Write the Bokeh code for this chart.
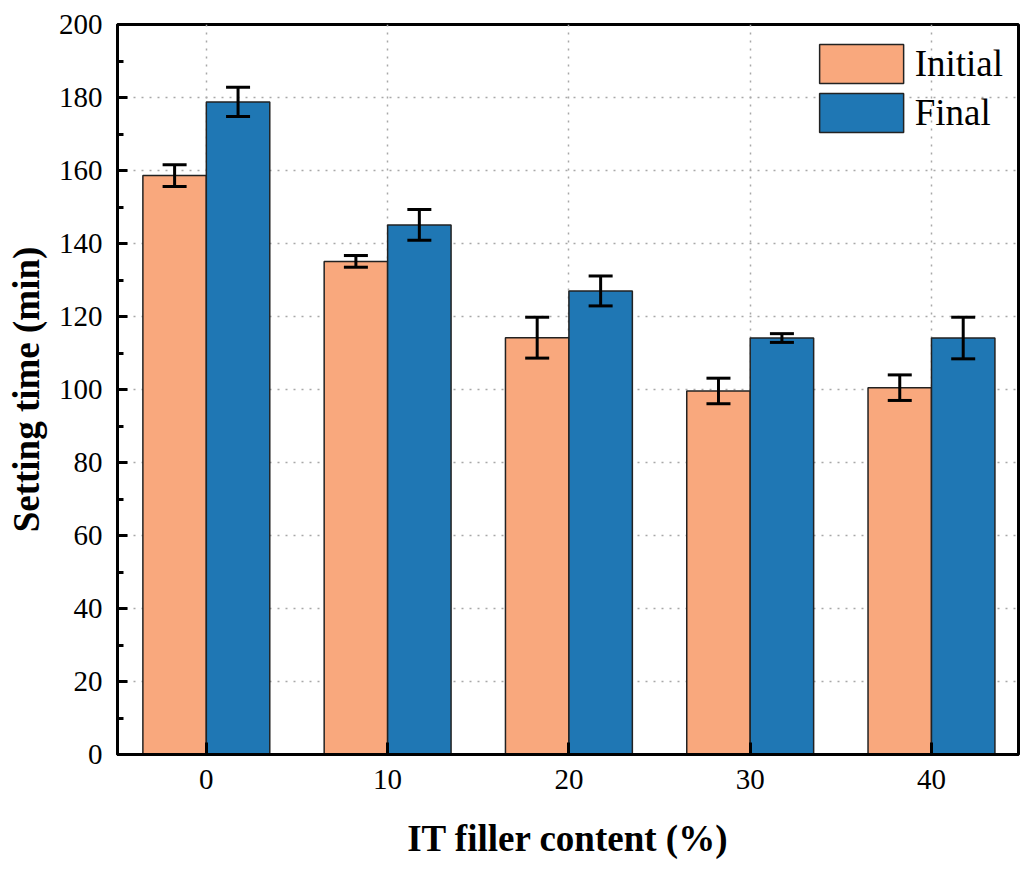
from bokeh.plotting import figure
from bokeh.models import ColumnDataSource, Range1d, FixedTicker, Whisker, TeeHead, Legend, LegendItem
from bokeh.embed import file_html
from bokeh.resources import INLINE

content = [0, 10, 20, 30, 40]
initial = [158.6, 135.1, 114.2, 99.6, 100.5]
initial_err = [3.0, 1.6, 5.6, 3.5, 3.5]
final = [178.8, 145.1, 127.0, 114.1, 114.1]
final_err = [4.0, 4.2, 4.1, 1.2, 5.7]
y_ticks = [0, 20, 40, 60, 80, 100, 120, 140, 160, 180, 200]

BAR_W = 3.5
OFF = 1.75
FONT = "Liberation Serif"

src_i = ColumnDataSource(dict(
    x=[c - OFF for c in content], top=initial,
    upper=[v + e for v, e in zip(initial, initial_err)],
    lower=[v - e for v, e in zip(initial, initial_err)]))
src_f = ColumnDataSource(dict(
    x=[c + OFF for c in content], top=final,
    upper=[v + e for v, e in zip(final, final_err)],
    lower=[v - e for v, e in zip(final, final_err)]))

p = figure(width=1024, height=862, output_backend="svg", toolbar_location=None,
           x_range=Range1d(-4.9, 44.8), y_range=Range1d(0, 200),
           min_border_left=117, min_border_right=6, min_border_top=24, min_border_bottom=108)

p.outline_line_color = "black"
p.outline_line_width = 3
p.outline_line_alpha = 1

for g in (p.xgrid, p.ygrid):
    g.grid_line_color = "#a8a8a8"
    g.grid_line_dash = "2 6"
    g.grid_line_width = 1.5
p.xgrid.ticker = FixedTicker(ticks=content)
p.ygrid.ticker = FixedTicker(ticks=y_ticks)

r_i = p.vbar(x="x", top="top", width=BAR_W, bottom=0, source=src_i,
             fill_color="#F9A87D", line_color="#222222", line_width=1.5)
r_f = p.vbar(x="x", top="top", width=BAR_W, bottom=0, source=src_f,
             fill_color="#1F77B4", line_color="#222222", line_width=1.5)

for s in (src_i, src_f):
    w = Whisker(base="x", upper="upper", lower="lower", source=s,
                line_color="black", line_width=3, level="overlay",
                upper_head=TeeHead(size=24, line_width=3, line_color="black"),
                lower_head=TeeHead(size=24, line_width=3, line_color="black"))
    p.add_layout(w)

xa = p.xaxis[0]
xa.ticker = FixedTicker(ticks=content)
xa.axis_label = "IT filler content (%)"
ya = p.yaxis[0]
ya.ticker = FixedTicker(ticks=y_ticks, minor_ticks=[10, 30, 50, 70, 90, 110, 130, 150, 170, 190])
ya.axis_label = "Setting time (min)"

for ax in (xa, ya):
    ax.axis_line_width = 3
    ax.axis_line_color = "black"
    ax.major_tick_line_width = 3
    ax.major_tick_line_color = "black"
    ax.minor_tick_line_width = 3
    ax.minor_tick_line_color = "black"
    ax.major_tick_out = 0
    ax.minor_tick_out = 0
    ax.major_label_text_font = FONT
    ax.major_label_text_font_size = "29px"
    ax.major_label_text_color = "black"
    ax.axis_label_text_font = FONT
    ax.axis_label_text_font_style = "bold"
    ax.axis_label_text_font_size = "37px"
    ax.axis_label_text_color = "black"
    ax.major_label_standoff = 15

xa.major_tick_in = 12
xa.minor_tick_in = 0
xa.axis_label_standoff = 26
ya.major_tick_in = 10
ya.minor_tick_in = 6
ya.axis_label_standoff = 9

legend = Legend(items=[LegendItem(label="Initial", renderers=[r_i]),
                       LegendItem(label="Final", renderers=[r_f])],
                location="top_right")
legend.glyph_width = 105
legend.glyph_height = 49
legend.label_text_font = FONT
legend.label_text_font_size = "37px"
legend.label_text_color = "black"
legend.label_standoff = 1
legend.spacing = -3
legend.padding = 8
legend.margin = 7
legend.background_fill_alpha = 0
legend.border_line_alpha = 0
p.add_layout(legend)

open("out.html", "w").write(file_html(p, INLINE))
